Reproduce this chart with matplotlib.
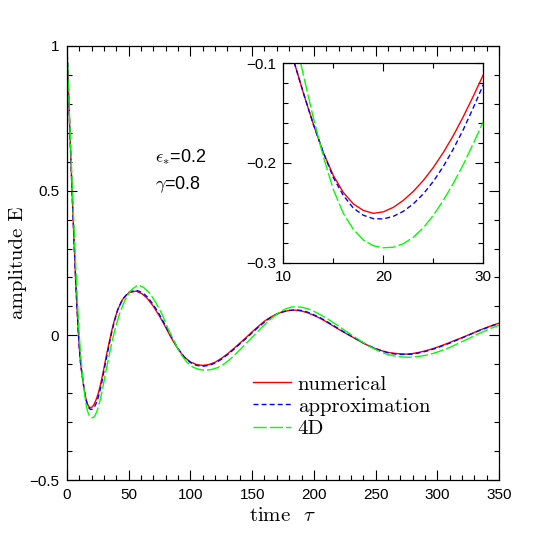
import matplotlib
matplotlib.use("Agg")
import matplotlib.pyplot as plt
from matplotlib.ticker import MultipleLocator

plt.rcParams['font.family'] = ['Liberation Sans', 'DejaVu Sans']
plt.rcParams['mathtext.fontset'] = 'cm'

# numerical solution (red)
t_num = [0, 1, 2, 3, 4, 5, 6, 7, 8, 9, 10, 11, 12, 13, 14, 15, 16, 17, 18, 19, 20,
         21, 22, 23, 24, 25, 26, 27, 28, 29, 30, 32, 34, 36, 38, 41, 45, 50,
         56, 61, 65, 70, 75, 80, 85, 90, 95, 100, 105, 110, 115, 120, 125, 130, 135,
         140, 145, 150, 155, 160, 165, 170, 175, 180, 185, 190, 195, 200, 205, 210,
         215, 220, 225, 230, 235, 240, 245, 250, 255, 260, 265, 270, 275, 280, 285,
         290, 295, 300, 305, 310, 315, 320, 325, 330, 335, 340, 345, 350]
e_num = [1.0, 0.87, 0.745, 0.625, 0.51, 0.40, 0.295, 0.19, 0.105, 0.025, -0.044,
         -0.096, -0.1295, -0.161, -0.1895, -0.2125, -0.2295, -0.241, -0.2475,
         -0.2505, -0.249, -0.2445, -0.2375, -0.2285, -0.2175, -0.2045, -0.1895,
         -0.1725, -0.1535, -0.133, -0.1115, -0.068, -0.028, 0.012, 0.046, 0.088,
         0.124, 0.147, 0.153, 0.143, 0.128, 0.100, 0.066, 0.027, -0.013, -0.048,
         -0.075, -0.092, -0.101, -0.104, -0.101, -0.093, -0.080, -0.064, -0.046,
         -0.027, -0.008, 0.012, 0.031, 0.049, 0.063, 0.074, 0.082, 0.086, 0.087,
         0.084, 0.078, 0.069, 0.059, 0.047, 0.034, 0.021, 0.009, -0.003, -0.015,
         -0.027, -0.037, -0.046, -0.053, -0.059, -0.062, -0.064, -0.065, -0.063,
         -0.059, -0.054, -0.048, -0.041, -0.033, -0.025, -0.016, -0.008, 0.001,
         0.010, 0.019, 0.027, 0.035, 0.042]

# approximation (blue)
t_app = [0, 1, 2, 3, 4, 5, 6, 7, 8, 9, 10, 11, 12, 13, 14, 15, 16, 17, 18, 19, 20,
         21, 22, 23, 24, 25, 26, 27, 28, 29, 30, 32, 34, 36, 38, 41, 45, 50, 56,
         61, 65, 70, 75, 80, 85, 90, 95, 100, 105, 110, 115, 120, 125, 130, 135, 140,
         145, 150, 155, 160, 165, 170, 175, 180, 185, 190, 195, 200, 205, 210, 215,
         220, 225, 230, 235, 240, 245, 250, 255, 260, 265, 270, 275, 280, 285, 290,
         295, 300, 305, 310, 315, 320, 325, 330, 335, 340, 345, 350]
e_app = [1.0, 0.87, 0.745, 0.625, 0.51, 0.40, 0.295, 0.19, 0.105, 0.025, -0.044,
         -0.096, -0.1295, -0.161, -0.1895, -0.2145, -0.2325, -0.2452, -0.2524,
         -0.2558, -0.2561, -0.2535, -0.2485, -0.241, -0.231, -0.2185, -0.2035,
         -0.186, -0.1665, -0.1445, -0.1215, -0.077, -0.035, 0.006, 0.042, 0.087,
         0.125, 0.149, 0.156, 0.148, 0.133, 0.106, 0.071, 0.032, -0.009, -0.046,
         -0.075, -0.094, -0.104, -0.107, -0.104, -0.096, -0.083, -0.067, -0.049,
         -0.030, -0.011, 0.009, 0.028, 0.046, 0.061, 0.073, 0.081, 0.086, 0.088,
         0.086, 0.080, 0.071, 0.061, 0.049, 0.036, 0.023, 0.010, -0.002, -0.014,
         -0.026, -0.037, -0.046, -0.054, -0.060, -0.064, -0.066, -0.066, -0.065,
         -0.061, -0.056, -0.050, -0.043, -0.035, -0.027, -0.018, -0.009, 0.0,
         0.009, 0.018, 0.026, 0.034, 0.041]

# 4D model (green)
t_4d = [0, 1, 2, 3, 4, 5, 6, 7, 8, 9, 10, 11, 12, 13, 14, 15, 16, 17, 18, 19, 20,
        21, 22, 23, 24, 25, 26, 27, 28, 29, 30, 32, 34, 36, 38, 40, 43, 47,
        52, 57.5, 62, 67, 72, 77, 82, 87, 92, 97, 102, 107, 112, 117, 122, 127, 132,
        137, 142, 147, 152, 157, 162, 167, 172, 177, 182, 186, 190, 195, 200, 205,
        210, 215, 220, 225, 230, 235, 240, 245, 250, 255, 260, 265, 270, 276, 282,
        288, 294, 300, 305, 310, 315, 320, 326, 332, 338, 344, 350]
e_4d = [1.0, 0.878, 0.762, 0.650, 0.543, 0.440, 0.341, 0.246, 0.156, 0.072, -0.004,
        -0.066, -0.1115, -0.1545, -0.1935, -0.2265, -0.2505, -0.2665, -0.2772,
        -0.2830, -0.2850, -0.2845, -0.281, -0.2745, -0.265, -0.2525, -0.2375,
        -0.2205, -0.2015, -0.1805, -0.1585, -0.115, -0.0725, -0.032, 0.005, 0.038,
        0.080, 0.122, 0.157, 0.174, 0.166, 0.146, 0.113, 0.073,
        0.022, -0.022, -0.064, -0.092, -0.110, -0.118, -0.121, -0.118, -0.112,
        -0.100, -0.083, -0.063, -0.042, -0.020, 0.002, 0.024, 0.045, 0.063, 0.080,
        0.091, 0.098, 0.099, 0.097, 0.092, 0.083, 0.072, 0.060, 0.046, 0.032,
        0.017, 0.003, -0.011, -0.025, -0.038, -0.049, -0.059, -0.066, -0.071,
        -0.074, -0.076, -0.074, -0.071, -0.066, -0.058, -0.050, -0.042, -0.032,
        -0.022, -0.010, 0.003, 0.014, 0.025, 0.035]

labels = ['numerical', 'approximation', '4D']
y_ticks = [-0.5, 0, 0.5, 1]
y_tick_labels = ['\u22120.5', '0', '0.5', '1']
inset_y_ticks = [-0.3, -0.2, -0.1]
inset_y_labels = ['\u22120.3', '\u22120.2', '\u22120.1']

serif = 'cmr10'

fig = plt.figure(figsize=(5.45, 5.45), dpi=100)
ax = fig.add_axes([67 / 545, 65 / 545, 432 / 545, 434 / 545])


def draw_curves(a):
    a.plot(t_num, e_num, color='#ff0000', lw=1.0, label=labels[0])
    a.plot(t_app, e_app, color='#0000ff', lw=1.0, dashes=(3.6, 2.2), label=labels[1])
    a.plot(t_4d, e_4d, color='#00ff00', lw=1.0, dashes=(9.5, 2.2), label=labels[2])


def style_ticks(a, major, minor, pad):
    a.tick_params(which='both', direction='in', top=True, right=True,
                  labelsize=11, width=0.8, color='black')
    a.tick_params(which='major', length=major, pad=pad)
    a.tick_params(which='minor', length=minor)
    for s in a.spines.values():
        s.set_linewidth(0.9)


draw_curves(ax)
ax.set_xlim(0, 350)
ax.set_ylim(-0.5, 1)
ax.xaxis.set_major_locator(MultipleLocator(50))
ax.xaxis.set_minor_locator(MultipleLocator(10))
ax.set_yticks(y_ticks, y_tick_labels)
ax.yaxis.set_minor_locator(MultipleLocator(0.1))
style_ticks(ax, 7, 3.5, 5.5)
ax.set_xlabel(r'time  $\tau$', fontsize=15, family=serif, labelpad=4)
ax.set_ylabel('amplitude E', fontsize=15, family=serif, labelpad=2)

ax.text(71.3, 0.617, r'$\epsilon_{*}$=0.2', fontsize=13, va='center')
ax.text(71.3, 0.520, r'$\gamma$=0.8', fontsize=13, va='center')

leg = ax.legend(loc='upper left', bbox_to_anchor=(186 / 432, 1 - 329 / 434),
                frameon=False, prop={'family': serif, 'size': 15},
                handlelength=1.8, handletextpad=0.35, labelspacing=0.17,
                borderpad=0, borderaxespad=0)

inset = fig.add_axes([283.3 / 545, 282.3 / 545, 200 / 545, 199.4 / 545])
draw_curves(inset)
inset.set_xlim(10, 30)
inset.set_ylim(-0.3, -0.1)
inset.xaxis.set_major_locator(MultipleLocator(10))
inset.xaxis.set_minor_locator(MultipleLocator(5))
inset.set_yticks(inset_y_ticks, inset_y_labels)
inset.yaxis.set_minor_locator(MultipleLocator(0.02))
style_ticks(inset, 6, 3.5, 5)

fig.savefig('out.png', dpi=100)
